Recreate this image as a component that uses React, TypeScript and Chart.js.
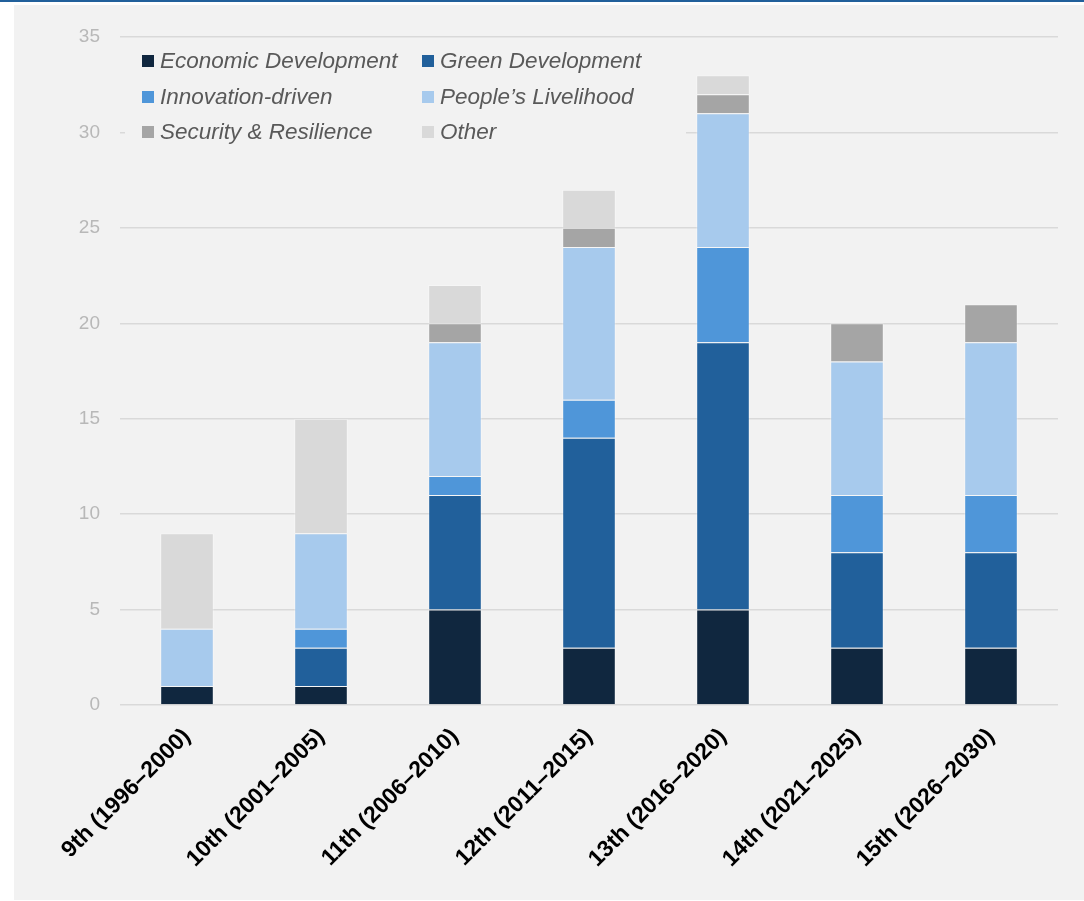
import React, { useEffect, useRef } from "react";
import { Chart, registerables } from "chart.js";

Chart.register(...registerables);

const categories = [
  "9th (1996–2000)",
  "10th (2001–2005)",
  "11th (2006–2010)",
  "12th (2011–2015)",
  "13th (2016–2020)",
  "14th (2021–2025)",
  "15th (2026–2030)",
];

const economicDevelopment = [1, 1, 5, 3, 5, 3, 3];
const greenDevelopment = [0, 2, 6, 11, 14, 5, 5];
const innovationDriven = [0, 1, 1, 2, 5, 3, 3];
const peoplesLivelihood = [3, 5, 7, 8, 7, 7, 8];
const securityResilience = [0, 0, 1, 1, 1, 2, 2];
const other = [5, 6, 2, 2, 1, 0, 0];

const seriesNames = [
  "Economic Development",
  "Green Development",
  "Innovation-driven",
  "People’s Livelihood",
  "Security & Resilience",
  "Other",
];
const seriesColors = ["#10273f", "#21609b", "#4f96d9", "#a7caed", "#a5a5a5", "#d9d9d9"];
const yTicks = [0, 5, 10, 15, 20, 25, 30, 35];

const legendPlugin = {
  id: "gridLegend",
  afterDatasetsDraw(chart: any) {
    const ctx = chart.ctx as CanvasRenderingContext2D;
    const area = chart.chartArea;
    ctx.save();
    ctx.fillStyle = "#f2f2f2";
    ctx.fillRect(area.left + 5, area.top + 6, 561, 108);
    ctx.font = "italic 22.5px 'Liberation Sans', Arial, sans-serif";
    ctx.textBaseline = "middle";
    ctx.textAlign = "left";
    const colX = [area.left + 22, area.left + 302];
    const rowY = [area.top + 24, area.top + 60, area.top + 95];
    chart.data.datasets.forEach((ds: any, i: number) => {
      const col = i % 2;
      const row = Math.floor(i / 2);
      const x = colX[col];
      const y = rowY[row];
      ctx.fillStyle = ds.backgroundColor;
      ctx.fillRect(x, y - 6, 12, 12);
      ctx.fillStyle = "#595959";
      ctx.fillText(ds.label, x + 18, y + 1);
    });
    ctx.restore();
  },
};

export default function App() {
  const canvasRef = useRef<HTMLCanvasElement | null>(null);

  useEffect(() => {
    if (!canvasRef.current) return;
    const seriesData = [
      economicDevelopment,
      greenDevelopment,
      innovationDriven,
      peoplesLivelihood,
      securityResilience,
      other,
    ];
    const chart = new Chart(canvasRef.current, {
      type: "bar",
      data: {
        labels: categories,
        datasets: seriesNames.map((name, i) => ({
          label: name,
          data: seriesData[i],
          backgroundColor: seriesColors[i],
          borderColor: "rgba(255,255,255,0.35)",
          borderWidth: 1,
          barPercentage: 0.8,
          categoryPercentage: 0.5,
        })),
      },
      options: {
        animation: false,
        responsive: false,
        maintainAspectRatio: false,
        layout: { padding: { top: 32, right: 26, bottom: 15, left: 0 } },
        plugins: {
          legend: { display: false },
          tooltip: { enabled: false },
        },
        scales: {
          x: {
            stacked: true,
            grid: { display: false },
            border: { display: false },
            ticks: {
              maxRotation: 45,
              minRotation: 45,
              color: "#000000",
              font: { family: "'Liberation Sans', Arial, sans-serif", size: 23, weight: "bold" },
              padding: 10,
            },
            afterFit(scale: any) {
              scale.height = 180;
            },
          },
          y: {
            stacked: true,
            min: 0,
            max: 35,
            afterBuildTicks(scale: any) {
              scale.ticks = yTicks.map((v) => ({ value: v }));
            },
            grid: { color: "#d9d9d9", lineWidth: 1.5, drawTicks: false },
            border: { display: false },
            ticks: {
              color: "#b8b8b8",
              padding: 20,
              font: { family: "'Liberation Sans', Arial, sans-serif", size: 19 },
            },
            afterFit(scale: any) {
              scale.width = 106;
            },
          },
        },
      },
      plugins: [legendPlugin],
    });
    return () => chart.destroy();
  }, []);

  return (
    <div style={{ position: "absolute", left: 0, top: 0, width: 1084, height: 901, background: "#ffffff", overflow: "hidden" }}>
      <div style={{ position: "absolute", left: 0, top: 0, width: 1084, height: 2, background: "#21609b" }} />
      <div style={{ position: "absolute", left: 14, top: 5, width: 1070, height: 895, background: "#f2f2f2" }}>
        <canvas ref={canvasRef} width={1070} height={895} style={{ display: "block", width: 1070, height: 895 }} />
      </div>
    </div>
  );
}
